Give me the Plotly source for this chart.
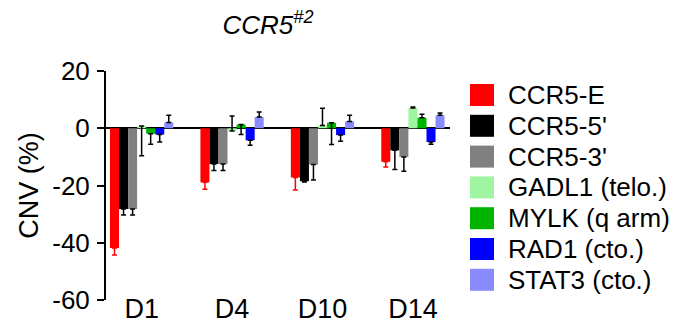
import plotly.graph_objects as go

days = ["D1", "D4", "D10", "D14"]

series_names = ["CCR5-E", "CCR5-5'", "CCR5-3'", "GADL1 (telo.)", "MYLK (q arm)", "RAD1 (cto.)", "STAT3 (cto.)"]
series_colors = ["#FF0000", "#000000", "#808080", "#A0F5A0", "#00B400", "#0000FF", "#8A8AFF"]
error_colors = ["#FF0000", "#000000", "#000000", "#000000", "#000000", "#000000", "#000000"]

ccr5_e = [-41.8, -18.9, -17.2, -11.7]
ccr5_5 = [-28.2, -12.5, -18.5, -7.7]
ccr5_3 = [-28.2, -12.5, -12.7, -10.0]
gadl1 = [0.8, -1.0, 1.0, 7.1]
mylk = [-1.9, 1.3, 1.9, 3.7]
rad1 = [-2.2, -4.2, -2.4, -4.8]
stat3 = [2.0, 3.9, 2.4, 4.5]

ccr5_e_up = [0, 0, 0, 0]
ccr5_e_down = [2.5, 2.4, 4.4, 1.8]
ccr5_5_up = [0, 0, 0, 0]
ccr5_5_down = [2.1, 2.3, 0.3, 6.7]
ccr5_3_up = [0, 0, 0, 0]
ccr5_3_down = [2.1, 2.3, 5.4, 5.0]
gadl1_up = [0, 5.3, 6.0, 0.3]
gadl1_down = [10.4, 0, 0, 0]
mylk_up = [0, 0, 0, 1.2]
mylk_down = [3.7, 3.5, 7.6, 0]
rad1_up = [0, 0, 0, 0]
rad1_down = [2.6, 1.7, 2.1, 0.8]
stat3_up = [2.5, 1.8, 2.1, 0.8]
stat3_down = [0, 0, 0, 0]

values = [ccr5_e, ccr5_5, ccr5_3, gadl1, mylk, rad1, stat3]
ups = [ccr5_e_up, ccr5_5_up, ccr5_3_up, gadl1_up, mylk_up, rad1_up, stat3_up]
downs = [ccr5_e_down, ccr5_5_down, ccr5_3_down, gadl1_down, mylk_down, rad1_down, stat3_down]

y_ticks = [20, 0, -20, -40, -60]

FONT = "Arial, Liberation Sans, sans-serif"
W, H = 690, 322
ML, MR, MT, MB = 106, 240, 71, 22

fig = go.Figure()
for name, col, ecol, v, up, dn in zip(series_names, series_colors, error_colors, values, ups, downs):
    fig.add_trace(go.Bar(
        x=days, y=v, name=name, marker=dict(color=col, line=dict(width=0)),
        error_y=dict(type="data", symmetric=False, array=up, arrayminus=dn,
                     color=ecol, thickness=1.5, width=2.5),
        showlegend=False,
    ))

# manual legend
plot_h = H - MT - MB
plot_w = W - ML - MR
shapes = []
annotations = []
for i, (name, col) in enumerate(zip(series_names, series_colors)):
    cy = 95 + 30.8 * i
    x0 = (470 - ML) / plot_w
    x1 = (494 - ML) / plot_w
    y0 = (H - MB - (cy + 11)) / plot_h
    y1 = (H - MB - (cy - 11)) / plot_h
    shapes.append(dict(type="rect", xref="paper", yref="paper", x0=x0, x1=x1, y0=y0, y1=y1,
                       fillcolor=col, line=dict(width=0)))
    annotations.append(dict(xref="paper", yref="paper", x=(506 - ML) / plot_w, y=(H - MB - cy) / plot_h,
                            xanchor="left", yanchor="middle", text=name, showarrow=False,
                            font=dict(family=FONT, size=26, color="black")))

fig.update_layout(
    width=W, height=H,
    margin=dict(l=ML, r=MR, t=MT, b=MB, pad=0, autoexpand=False),
    paper_bgcolor="white", plot_bgcolor="white",
    barmode="group", bargap=0.3, bargroupgap=0,
    title=dict(text="<i>CCR5<sup>#2</sup></i>", x=268 / W, xanchor="center",
               y=1 - 25 / H, yanchor="middle", yref="container",
               font=dict(family=FONT, size=26, color="black")),
    shapes=shapes, annotations=annotations,
    font=dict(family=FONT, color="black"),
)
fig.update_xaxes(
    range=[-0.394, 3.41], showline=False, ticks="", showgrid=False, zeroline=False,
    automargin=False, ticklabelstandoff=-10,
    tickfont=dict(family=FONT, size=27, color="black"),
)
fig.update_yaxes(
    range=[-60, 20], tickvals=y_ticks, ticktext=[str(t) for t in y_ticks],
    showline=True, linecolor="black", linewidth=2, ticks="outside", ticklen=7, tickwidth=2,
    tickcolor="black", showgrid=False, zeroline=True, zerolinecolor="black", zerolinewidth=2,
    automargin=False, ticklabelstandoff=2,
    tickfont=dict(family=FONT, size=26, color="black"),
    title=dict(text="CNV (%)", font=dict(family=FONT, size=27, color="black"), standoff=6),
)

fig.write_html("out.html", config={"displayModeBar": False},
               post_script="document.body.style.margin='0';")
